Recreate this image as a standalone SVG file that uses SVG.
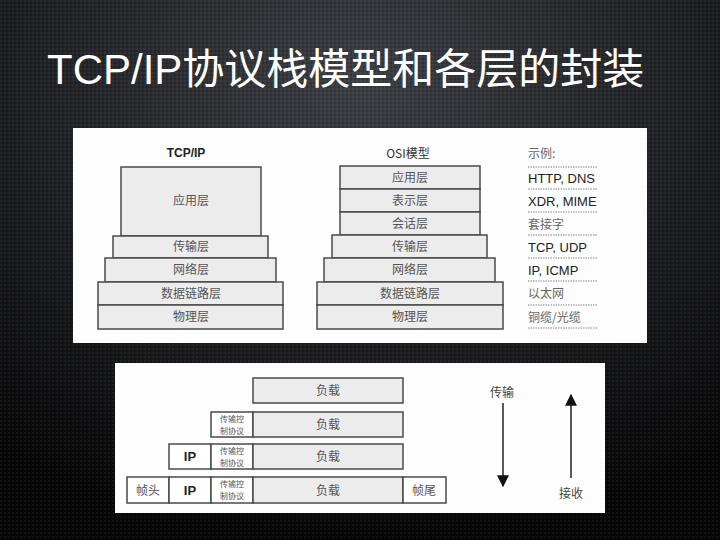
<svg xmlns="http://www.w3.org/2000/svg" width="720" height="540" viewBox="0 0 720 540">
<defs>
<radialGradient id="bg" cx="0.5" cy="0.15" r="0.85">
<stop offset="0" stop-color="#3c3f44"/>
<stop offset="0.6" stop-color="#1c1d20"/>
<stop offset="1" stop-color="#070708"/>
</radialGradient>
<pattern id="tex" width="4" height="4" patternUnits="userSpaceOnUse">
<rect width="2" height="2" fill="#ffffff" opacity="0.04"/>
<rect x="2" y="2" width="2" height="2" fill="#000000" opacity="0.12"/>
</pattern>
<marker id="ah" viewBox="0 0 10 10" refX="9" refY="5" markerWidth="8" markerHeight="8" markerUnits="strokeWidth" orient="auto">
<path d="M0,0 L10,5 L0,10 z" fill="#111"/>
</marker>
<style>
.box{fill:#ececec;stroke:#4a4a4a;stroke-width:1.5}
.wbox{fill:#ffffff;stroke:#4a4a4a;stroke-width:1.5}
.cj{font-family:"Noto Sans CJK SC","Liberation Sans",sans-serif;font-size:12px;fill:#555;text-anchor:middle}
.cjs{font-family:"Noto Sans CJK SC","Liberation Sans",sans-serif;font-size:8px;fill:#555;text-anchor:middle}
.en{font-family:"Liberation Sans","Noto Sans CJK SC",sans-serif;font-size:13px;fill:#222}
.ex{font-family:"Noto Sans CJK SC","Liberation Sans",sans-serif;font-size:12px;fill:#666}
.bold{font-family:"Liberation Sans",sans-serif;font-weight:bold;fill:#222;text-anchor:middle}
.dot{stroke:#888;stroke-width:1;stroke-dasharray:1.5 1}
.arr{stroke:#222;stroke-width:1.5;fill:none}
</style>
</defs>
<rect width="720" height="540" fill="url(#bg)"/>
<rect width="720" height="540" fill="url(#tex)"/>
<text x="47" y="84" font-family="'Liberation Sans','Noto Sans CJK SC',sans-serif" font-size="42" fill="#ffffff">TCP/IP协议栈模型和各层的封装</text>

<rect x="73" y="128" width="574" height="215" fill="#fdfdfd"/>
<g id="tcpip">
<text x="186" y="157" class="bold" font-size="12">TCP/IP</text>
<g id="t-app"><rect class="box" x="121" y="167" width="140" height="69"/><text class="cj" x="191" y="205">应用层</text></g>
<g id="t-trans"><rect class="box" x="113" y="236" width="155" height="22"/><text class="cj" x="191" y="251">传输层</text></g>
<g id="t-net"><rect class="box" x="105" y="258" width="171" height="24"/><text class="cj" x="191" y="274">网络层</text></g>
<g id="t-link"><rect class="box" x="98" y="282" width="185" height="23"/><text class="cj" x="191" y="298">数据链路层</text></g>
<g id="t-phy"><rect class="box" x="98" y="305" width="185" height="24"/><text class="cj" x="191" y="321">物理层</text></g>
</g>
<g id="osi">
<text x="408" y="158" class="cj" style="fill:#333">OSI模型</text>
<g id="o-app"><rect class="box" x="340" y="166" width="140" height="23"/><text class="cj" x="410" y="182">应用层</text></g>
<g id="o-pres"><rect class="box" x="340" y="189" width="140" height="23"/><text class="cj" x="410" y="205">表示层</text></g>
<g id="o-sess"><rect class="box" x="340" y="212" width="140" height="23"/><text class="cj" x="410" y="228">会话层</text></g>
<g id="o-trans"><rect class="box" x="332" y="235" width="155" height="23"/><text class="cj" x="410" y="251">传输层</text></g>
<g id="o-net"><rect class="box" x="324" y="258" width="171" height="24"/><text class="cj" x="410" y="274">网络层</text></g>
<g id="o-link"><rect class="box" x="317" y="282" width="186" height="23"/><text class="cj" x="410" y="298">数据链路层</text></g>
<g id="o-phy"><rect class="box" x="317" y="305" width="186" height="24"/><text class="cj" x="410" y="321">物理层</text></g>
</g>
<g id="examples">
<text class="ex" x="528" y="158">示例:</text>
<line class="dot" x1="528" y1="167" x2="598" y2="167"/>
<text class="en" x="528" y="183">HTTP, DNS</text>
<line class="dot" x1="528" y1="189" x2="598" y2="189"/>
<text class="en" x="528" y="206">XDR, MIME</text>
<line class="dot" x1="528" y1="212" x2="598" y2="212"/>
<text class="ex" x="528" y="229">套接字</text>
<line class="dot" x1="528" y1="235" x2="598" y2="235"/>
<text class="en" x="528" y="252">TCP, UDP</text>
<line class="dot" x1="528" y1="258" x2="598" y2="258"/>
<text class="en" x="528" y="275">IP, ICMP</text>
<line class="dot" x1="528" y1="281" x2="598" y2="281"/>
<text class="ex" x="528" y="298">以太网</text>
<line class="dot" x1="528" y1="305" x2="598" y2="305"/>
<text class="ex" x="528" y="322">铜缆/光缆</text>
<line class="dot" x1="528" y1="328" x2="598" y2="328"/>
</g>

<rect x="115" y="363" width="490" height="150" fill="#fdfdfd"/>
<g id="row1">
<rect class="box" x="253" y="378" width="150" height="25"/><text class="cj" x="328" y="395">负载</text>
</g>
<g id="row2">
<rect class="wbox" x="211" y="412" width="42" height="25"/>
<text class="cjs" x="232" y="422">传输控</text><text class="cjs" x="232" y="434">制协议</text>
<rect class="box" x="253" y="412" width="150" height="25"/><text class="cj" x="328" y="429">负载</text>
</g>
<g id="row3">
<rect class="wbox" x="169" y="444" width="42" height="25"/><text class="bold" font-size="13" x="190" y="461">IP</text>
<rect class="wbox" x="211" y="444" width="42" height="25"/>
<text class="cjs" x="232" y="454">传输控</text><text class="cjs" x="232" y="466">制协议</text>
<rect class="box" x="253" y="444" width="150" height="25"/><text class="cj" x="328" y="461">负载</text>
</g>
<g id="row4">
<rect class="wbox" x="127" y="477" width="42" height="26"/><text class="cj" x="148" y="495">帧头</text>
<rect class="wbox" x="169" y="477" width="42" height="26"/><text class="bold" font-size="13" x="190" y="495">IP</text>
<rect class="wbox" x="211" y="477" width="42" height="26"/>
<text class="cjs" x="232" y="487">传输控</text><text class="cjs" x="232" y="499">制协议</text>
<rect class="box" x="253" y="477" width="150" height="26"/><text class="cj" x="328" y="495">负载</text>
<rect class="wbox" x="403" y="477" width="43" height="26"/><text class="cj" x="424" y="495">帧尾</text>
</g>
<g id="connectors">
<text class="cj" x="502" y="397" style="fill:#444">传输</text>
<line class="arr" x1="503" y1="403" x2="503" y2="486" marker-end="url(#ah)"/>
<line class="arr" x1="571" y1="478" x2="571" y2="395" marker-end="url(#ah)"/>
<text class="cj" x="571" y="498" style="fill:#444">接收</text>
</g>
</svg>
